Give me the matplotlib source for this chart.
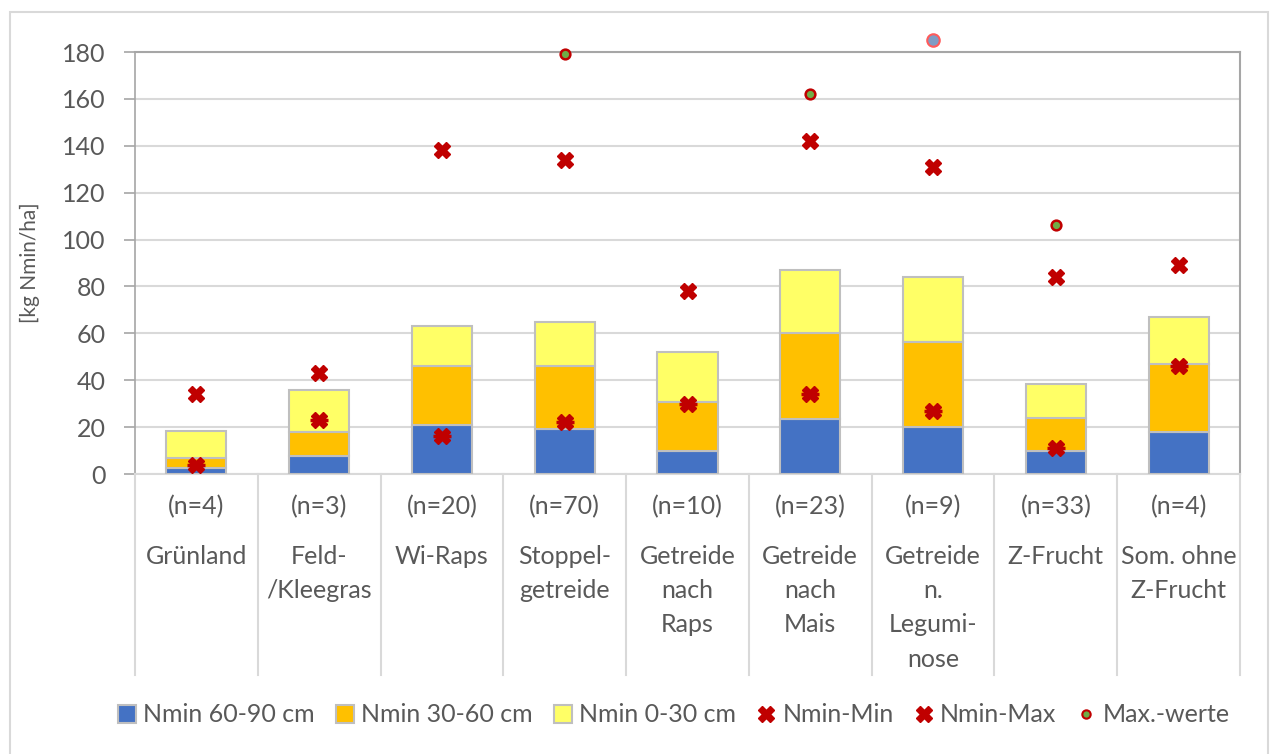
import matplotlib
matplotlib.use("Agg")
import matplotlib.pyplot as plt
from matplotlib.transforms import blended_transform_factory
from matplotlib.lines import Line2D
from matplotlib.patches import Patch, Rectangle

plt.rcParams['font.family'] = ['Lato', 'DejaVu Sans']

# Data
counts = ["(n=4)", "(n=3)", "(n=20)", "(n=70)", "(n=10)", "(n=23)", "(n=9)", "(n=33)", "(n=4)"]
categories = [
    ["Grünland"],
    ["Feld-", "/Kleegras"],
    ["Wi-Raps"],
    ["Stoppel-", "getreide"],
    ["Getreide", "nach", "Raps"],
    ["Getreide", "nach", "Mais"],
    ["Getreide", "n.", "Legumi-", "nose"],
    ["Z-Frucht"],
    ["Som. ohne", "Z-Frucht"],
]
nmin_60_90 = [2.5, 7.5, 21, 19, 10, 23.5, 20, 10, 18]
nmin_30_60 = [4.5, 10.5, 25, 27, 20.5, 36.5, 36.5, 14, 29]
nmin_0_30 = [11.3, 18, 17, 19, 21.5, 27, 27.5, 14.5, 20]
nmin_min = [4, 23, 16, 22, 30, 34, 27, 11, 46]
nmin_max = [34, 43, 138, 134, 78, 142, 131, 84, 89]
max_idx = [3, 5, 7]
max_vals = [179, 162, 106]
max_outlier_idx = [6]
max_outlier_vals = [185]
yticks = [0, 20, 40, 60, 80, 100, 120, 140, 160, 180]

W, H = 1272, 754
fig = plt.figure(figsize=(W / 100, H / 100), dpi=100)
ax = fig.add_axes([135 / W, 1 - 474 / H, (1240 - 135) / W, (474 - 52) / H])

txt = '#595959'
x = list(range(len(counts)))
bw = 0.49
edge = '#BFBFBF'
ax.bar(x, nmin_60_90, bw, color='#4472C4', edgecolor=edge, linewidth=1.5, zorder=3)
bot2 = nmin_60_90
ax.bar(x, nmin_30_60, bw, bottom=bot2, color='#FFC000', edgecolor=edge, linewidth=1.5, zorder=3)
bot3 = [a + b for a, b in zip(nmin_60_90, nmin_30_60)]
ax.bar(x, nmin_0_30, bw, bottom=bot3, color='#FFFF66', edgecolor=edge, linewidth=1.5, zorder=3)

red = '#C00000'
ax.plot(x, nmin_min, ls='none', marker='X', ms=11, mfc=red, mec=red, zorder=5, clip_on=False)
ax.plot(x, nmin_min, ls='none', marker='_', ms=13, mew=2.5, color=red, zorder=5, clip_on=False)
ax.plot(x, nmin_max, ls='none', marker='X', ms=11, mfc=red, mec=red, zorder=5, clip_on=False)
ax.plot(max_idx, max_vals, ls='none', marker='o', ms=7, mfc='#70AD47', mec=red, mew=1.8,
        zorder=5, clip_on=False)
ax.plot(max_outlier_idx, max_outlier_vals, ls='none', marker='o', ms=9, mfc='#7F9CC4', mec='#FF5B5B',
        mew=1.5, zorder=5, clip_on=False)

ax.set_xlim(-0.5, len(counts) - 0.5)
ax.set_ylim(0, 180)
ax.set_yticks(yticks)
ax.set_xticks([])
ax.yaxis.grid(True, color='#D9D9D9', lw=1.5, zorder=0)
ax.set_axisbelow(True)
for s in ['top', 'right']:
    ax.spines[s].set_color('#A6A6A6')
    ax.spines[s].set_linewidth(1.5)
ax.spines['left'].set_color('#A6A6A6')
ax.spines['left'].set_linewidth(1.2)
ax.spines['bottom'].set_color('#D9D9D9')
ax.spines['bottom'].set_linewidth(1.5)
ax.tick_params(axis='y', direction='out', length=8, width=1.2, color='#A6A6A6',
               labelsize=18, labelcolor=txt, pad=13)
ax.set_ylabel('[kg Nmin/ha]', fontsize=15, color=txt)
ax.yaxis.set_label_coords((40 - 135) / (1240 - 135), (474 - 263) / (474 - 52))

# Category label table below the axis
tr = blended_transform_factory(ax.transData, fig.transFigure)
for b in [i - 0.5 for i in range(len(counts) + 1)]:
    fig.add_artist(Line2D([b, b], [1 - 474 / H, 1 - 675 / H], transform=tr, color='#D9D9D9', lw=1.5))
for i, (n, lines) in enumerate(zip(counts, categories)):
    fig.text(i, 1 - 507 / H, n, transform=tr, ha='center', va='center', fontsize=18, color=txt)
    for j, line in enumerate(lines):
        fig.text(i, 1 - (556 + 34.5 * j) / H, line, transform=tr, ha='center', va='center',
                 fontsize=18, color=txt)

# Outer chart frame
fig.add_artist(Rectangle((10 / W, -0.1), 1258 / W, 1.1 - 12 / H, transform=fig.transFigure,
                         fill=False, edgecolor='#D9D9D9', lw=1.5))

handles = [
    Patch(facecolor='#4472C4', edgecolor=edge, lw=1.5),
    Patch(facecolor='#FFC000', edgecolor=edge, lw=1.5),
    Patch(facecolor='#FFFF66', edgecolor=edge, lw=1.5),
    Line2D([], [], ls='none', marker='X', ms=11, color=red),
    Line2D([], [], ls='none', marker='X', ms=11, color=red),
    Line2D([], [], ls='none', marker='o', ms=6, mfc='#70AD47', mec=red, mew=1.5),
]
labels = ['Nmin 60-90 cm', 'Nmin 30-60 cm', 'Nmin 0-30 cm', 'Nmin-Min', 'Nmin-Max', 'Max.-werte']
leg = fig.legend(handles, labels, loc='center', bbox_to_anchor=(674 / W, 1 - 715 / H), ncol=6,
                 frameon=False, fontsize=18, handlelength=0.7, handleheight=0.7, handletextpad=0.3,
                 columnspacing=0.85)
for t in leg.get_texts():
    t.set_color(txt)

fig.savefig('out.png', dpi=100, facecolor='white')
